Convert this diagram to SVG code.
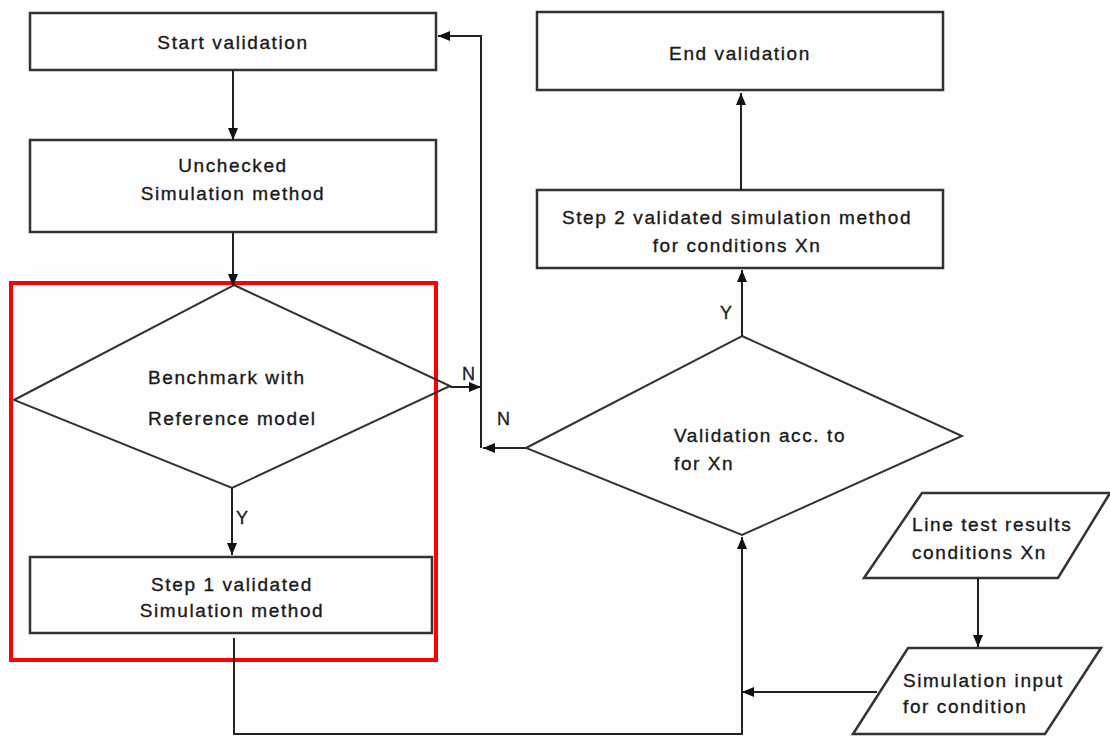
<svg xmlns="http://www.w3.org/2000/svg" width="1110" height="736" viewBox="0 0 1110 736">
<style>
.box{fill:#fdfdfd;stroke:#333;stroke-width:2.5}
.t{font-family:"Liberation Sans",Arial,sans-serif;font-size:19px;letter-spacing:1.6px;fill:#1a1a1a;stroke:#1a1a1a;stroke-width:0.35}
.c{text-anchor:middle}
.lbl{font-family:"Liberation Sans",Arial,sans-serif;font-size:18px;fill:#1a1a1a;stroke:#1a1a1a;stroke-width:0.3}
.ln{fill:none;stroke:#222;stroke-width:2}
</style>
<defs>
<marker id="ah" viewBox="0 0 12 10" refX="12" refY="5" markerWidth="12" markerHeight="10" markerUnits="userSpaceOnUse" orient="auto">
<path d="M0,0 L12,5 L0,10 z" fill="#111"/>
</marker>
</defs>
<rect x="0" y="0" width="1110" height="736" fill="#fdfdfd"/>
<g id="red-frame"><rect x="11" y="283" width="425" height="377" fill="none" stroke="#f00" stroke-width="4"/></g>
<g id="start"><rect class="box" x="30" y="13" width="406" height="57"/><text class="t c" x="233" y="49">Start validation</text></g>
<g id="unchecked"><rect class="box" x="30" y="140" width="406" height="92"/><text class="t c" x="233" y="172">Unchecked</text><text class="t c" x="233" y="200">Simulation method</text></g>
<g id="benchmark"><polygon points="234,285 450,386 232,488 14,400" fill="none" stroke="#333" stroke-width="2"/><text class="t" x="148" y="384">Benchmark with</text><text class="t" x="148" y="425">Reference model</text></g>
<g id="step1"><rect class="box" x="30" y="557" width="402" height="76"/><text class="t c" x="232" y="591">Step 1 validated</text><text class="t c" x="232" y="617">Simulation method</text></g>
<g id="end"><rect class="box" x="537" y="12" width="406" height="78"/><text class="t c" x="740" y="60">End validation</text></g>
<g id="step2"><rect class="box" x="537" y="190" width="406" height="78"/><text class="t c" x="737" y="224">Step 2 validated simulation method</text><text class="t c" x="737" y="252">for conditions Xn</text></g>
<g id="validation"><polygon points="742,336 962,436 742,535 526,448" fill="none" stroke="#333" stroke-width="2"/><text class="t" x="674" y="442">Validation acc. to</text><text class="t" x="674" y="470">for Xn</text></g>
<g id="linetest"><polygon points="922,493 1110,493 1058,578 864,578" class="box"/><text class="t" x="912" y="531">Line test results</text><text class="t" x="912" y="559">conditions Xn</text></g>
<g id="siminput"><polygon points="908,648 1101,648 1045,734 853,734" class="box"/><text class="t" x="903" y="687">Simulation input</text><text class="t" x="903" y="713">for condition</text></g>
<g id="connectors">
<line class="ln" x1="233" y1="70" x2="233" y2="140" marker-end="url(#ah)"/>
<line class="ln" x1="233" y1="232" x2="233" y2="286" marker-end="url(#ah)"/>
<line class="ln" x1="232" y1="488" x2="232" y2="555" marker-end="url(#ah)"/>
<line class="ln" x1="450" y1="387" x2="481" y2="387" marker-end="url(#ah)"/>
<polyline class="ln" points="481,448 481,36 438,36" marker-end="url(#ah)"/>
<line class="ln" x1="526" y1="448" x2="483" y2="448" marker-end="url(#ah)"/>
<line class="ln" x1="742" y1="336" x2="742" y2="270" marker-end="url(#ah)"/>
<line class="ln" x1="741" y1="190" x2="741" y2="93" marker-end="url(#ah)"/>
<line class="ln" x1="978" y1="578" x2="978" y2="647" marker-end="url(#ah)"/>
<line class="ln" x1="877" y1="692" x2="742" y2="692" marker-end="url(#ah)"/>
<polyline class="ln" points="234,638 234,734 742,734 742,537" marker-end="url(#ah)"/>
<text class="lbl" x="462" y="380">N</text>
<text class="lbl" x="497" y="425">N</text>
<text class="lbl" x="236" y="524">Y</text>
<text class="lbl" x="720" y="319">Y</text>
</g>
</svg>
